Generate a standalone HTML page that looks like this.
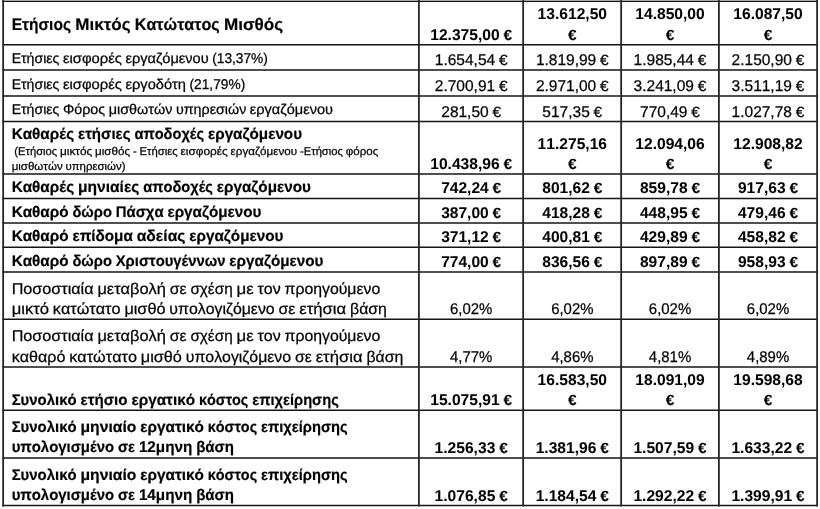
<!DOCTYPE html><html><head><meta charset="utf-8"><title>table</title><style>
html,body{margin:0;padding:0;background:#fff}body{width:820px;height:509px;position:relative;overflow:hidden;font-family:"Liberation Sans",sans-serif;color:#000;text-rendering:geometricPrecision;font-kerning:none}
.t{position:absolute;white-space:pre;line-height:1;transform-origin:0 0;-webkit-text-stroke:0.25px #000}.b{font-weight:bold;-webkit-text-stroke:0.2px #000}.v{-webkit-text-stroke:0.05px #000}svg{position:absolute;left:0;top:0}#w{position:absolute;left:0;top:0;width:820px;height:509px;will-change:transform}
</style></head><body>
<svg width="820" height="509" viewBox="0 0 820 509">
<rect x="3.15" y="0" width="813.95" height="1" fill="#d8d8d8"/>
<line x1="2.2" y1="1.45" x2="818.0" y2="1.45" stroke="#141414" stroke-width="1.20"/>
<line x1="2.2" y1="44.70" x2="818.0" y2="44.70" stroke="#141414" stroke-width="1.50"/>
<line x1="2.2" y1="70.10" x2="818.0" y2="70.10" stroke="#141414" stroke-width="1.50"/>
<line x1="2.2" y1="95.90" x2="818.0" y2="95.90" stroke="#141414" stroke-width="1.50"/>
<line x1="2.2" y1="121.40" x2="818.0" y2="121.40" stroke="#141414" stroke-width="1.50"/>
<line x1="2.2" y1="174.00" x2="818.0" y2="174.00" stroke="#141414" stroke-width="1.50"/>
<line x1="2.2" y1="198.40" x2="818.0" y2="198.40" stroke="#141414" stroke-width="1.50"/>
<line x1="2.2" y1="222.90" x2="818.0" y2="222.90" stroke="#141414" stroke-width="1.50"/>
<line x1="2.2" y1="247.30" x2="818.0" y2="247.30" stroke="#141414" stroke-width="1.50"/>
<line x1="2.2" y1="271.90" x2="818.0" y2="271.90" stroke="#141414" stroke-width="1.50"/>
<line x1="2.2" y1="319.30" x2="818.0" y2="319.30" stroke="#141414" stroke-width="1.50"/>
<line x1="2.2" y1="367.00" x2="818.0" y2="367.00" stroke="#141414" stroke-width="1.50"/>
<line x1="2.2" y1="410.30" x2="818.0" y2="410.30" stroke="#141414" stroke-width="1.50"/>
<line x1="2.2" y1="458.00" x2="818.0" y2="458.00" stroke="#141414" stroke-width="1.50"/>
<line x1="2.2" y1="505.60" x2="818.0" y2="505.60" stroke="#141414" stroke-width="1.50"/>
<line x1="3.15" y1="0.0" x2="3.15" y2="506.4" stroke="#262626" stroke-width="1.80"/>
<line x1="418.90" y1="0.0" x2="418.90" y2="506.4" stroke="#262626" stroke-width="1.80"/>
<line x1="523.15" y1="0.0" x2="523.15" y2="506.4" stroke="#262626" stroke-width="1.80"/>
<line x1="621.15" y1="0.0" x2="621.15" y2="506.4" stroke="#262626" stroke-width="1.80"/>
<line x1="718.90" y1="0.0" x2="718.90" y2="506.4" stroke="#262626" stroke-width="1.80"/>
<line x1="817.10" y1="0.0" x2="817.10" y2="506.4" stroke="#262626" stroke-width="1.80"/>
</svg>
<div id="w">
<div class="t b" style="left:11px;top:17px;font-size:16.81px;transform:translate(0.65px,0) scaleX(0.9264)">Ετήσιος</div>
<div class="t b" style="left:75px;top:17px;font-size:16.81px;transform:translate(0.29px,0) scaleX(1.0138)">Μικτός</div>
<div class="t b" style="left:134px;top:17px;font-size:16.81px;transform:translate(0.81px,0) scaleX(0.9588)">Κατώτατος</div>
<div class="t b" style="left:223px;top:17px;font-size:16.81px;transform:translate(0.89px,0) scaleX(1.0184)">Μισθός</div>
<div class="t" style="left:11px;top:51px;font-size:14.12px;transform:translate(0.65px,0) scaleX(0.9991)">Ετήσιες</div>
<div class="t" style="left:62px;top:51px;font-size:14.12px;transform:translate(0.91px,0) scaleX(1.0493)">εισφορές</div>
<div class="t" style="left:125px;top:51px;font-size:14.12px;transform:translate(0.47px,0) scaleX(1.0313)">εργαζόμενου</div>
<div class="t" style="left:212px;top:52px;font-size:14.16px;transform:translate(0.19px,0) scaleX(0.9694)">(13,37%)</div>
<div class="t" style="left:11px;top:77px;font-size:14.12px;transform:translate(0.65px,0) scaleX(0.9991)">Ετήσιες</div>
<div class="t" style="left:62px;top:77px;font-size:14.12px;transform:translate(0.91px,0) scaleX(1.0493)">εισφορές</div>
<div class="t" style="left:125px;top:77px;font-size:14.12px;transform:translate(0.47px,0) scaleX(1.0375)">εργοδότη</div>
<div class="t" style="left:189px;top:78px;font-size:14.16px;transform:translate(0.54px,0) scaleX(0.9694)">(21,79%)</div>
<div class="t" style="left:11px;top:102px;font-size:14.12px;transform:translate(0.65px,0) scaleX(0.9991)">Ετήσιες</div>
<div class="t" style="left:62px;top:102px;font-size:14.12px;transform:translate(0.91px,0) scaleX(1.0121)">Φόρος</div>
<div class="t" style="left:108px;top:102px;font-size:14.12px;transform:translate(0.72px,0) scaleX(1.0190)">μισθωτών</div>
<div class="t" style="left:175px;top:102px;font-size:14.12px;transform:translate(0.94px,0) scaleX(1.0116)">υπηρεσιών</div>
<div class="t" style="left:249px;top:102px;font-size:14.12px;transform:translate(0.82px,0) scaleX(1.0313)">εργαζόμενου</div>
<div class="t b" style="left:11px;top:127px;font-size:15.41px;transform:translate(0.65px,0) scaleX(0.9930)">Καθαρές</div>
<div class="t b" style="left:77px;top:127px;font-size:15.41px;transform:translate(0.97px,0) scaleX(0.9786)">ετήσιες</div>
<div class="t b" style="left:134px;top:127px;font-size:15.41px;transform:translate(0.42px,0) scaleX(0.9511)">αποδοχές</div>
<div class="t b" style="left:207px;top:127px;font-size:15.41px;transform:translate(0.97px,0) scaleX(0.9896)">εργαζόμενου</div>
<div class="t" style="left:14px;top:147px;font-size:11.3px;transform:translate(0.35px,0) scaleX(0.9909)">(Ετήσιος</div>
<div class="t" style="left:60px;top:147px;font-size:11.3px;transform:translate(0.02px,0) scaleX(1.0453)">μικτός</div>
<div class="t" style="left:95px;top:147px;font-size:11.3px;transform:translate(0.09px,0) scaleX(1.0294)">μισθός</div>
<div class="t" style="left:132px;top:147px;font-size:11.3px;transform:translate(0.90px,0) scaleX(1.0075)">-</div>
<div class="t" style="left:139px;top:147px;font-size:11.3px;transform:translate(0.49px,0) scaleX(0.9992)">Ετήσιες</div>
<div class="t" style="left:180px;top:147px;font-size:11.3px;transform:translate(0.52px,0) scaleX(1.0494)">εισφορές</div>
<div class="t" style="left:230px;top:147px;font-size:11.3px;transform:translate(0.59px,0) scaleX(1.0315)">εργαζόμενου</div>
<div class="t" style="left:299px;top:147px;font-size:11.3px;transform:translate(1.00px,0) scaleX(0.9917)">-Ετήσιος</div>
<div class="t" style="left:345px;top:147px;font-size:11.3px;transform:translate(0.71px,0) scaleX(1.0239)">φόρος</div>
<div class="t" style="left:11px;top:162px;font-size:11.3px;transform:translate(0.65px,0) scaleX(1.0192)">μισθωτών</div>
<div class="t" style="left:65px;top:162px;font-size:11.3px;transform:translate(0.45px,0) scaleX(1.0109)">υπηρεσιών)</div>
<div class="t b" style="left:11px;top:180px;font-size:15.41px;transform:translate(0.65px,0) scaleX(0.9930)">Καθαρές</div>
<div class="t b" style="left:77px;top:180px;font-size:15.41px;transform:translate(0.97px,0) scaleX(1.0104)">μηνιαίες</div>
<div class="t b" style="left:143px;top:180px;font-size:15.41px;transform:translate(0.23px,0) scaleX(0.9511)">αποδοχές</div>
<div class="t b" style="left:216px;top:180px;font-size:15.41px;transform:translate(0.78px,0) scaleX(0.9896)">εργαζόμενου</div>
<div class="t b" style="left:11px;top:205px;font-size:15.41px;transform:translate(0.65px,0) scaleX(0.9922)">Καθαρό</div>
<div class="t b" style="left:72px;top:205px;font-size:15.41px;transform:translate(0.40px,0) scaleX(0.9557)">δώρο</div>
<div class="t b" style="left:115px;top:205px;font-size:15.41px;transform:translate(0.74px,0) scaleX(0.9661)">Πάσχα</div>
<div class="t b" style="left:167px;top:205px;font-size:15.41px;transform:translate(0.40px,0) scaleX(0.9896)">εργαζόμενου</div>
<div class="t b" style="left:11px;top:229px;font-size:15.41px;transform:translate(0.65px,0) scaleX(0.9922)">Καθαρό</div>
<div class="t b" style="left:72px;top:229px;font-size:15.41px;transform:translate(0.40px,0) scaleX(0.9895)">επίδομα</div>
<div class="t b" style="left:136px;top:229px;font-size:15.41px;transform:translate(0.67px,0) scaleX(1.0185)">αδείας</div>
<div class="t b" style="left:189px;top:229px;font-size:15.41px;transform:translate(0.30px,0) scaleX(0.9896)">εργαζόμενου</div>
<div class="t b" style="left:11px;top:254px;font-size:15.41px;transform:translate(0.65px,0) scaleX(0.9922)">Καθαρό</div>
<div class="t b" style="left:72px;top:254px;font-size:15.41px;transform:translate(0.40px,0) scaleX(0.9557)">δώρο</div>
<div class="t b" style="left:115px;top:254px;font-size:15.41px;transform:translate(0.74px,0) scaleX(0.9617)">Χριστουγέννων</div>
<div class="t b" style="left:229px;top:254px;font-size:15.41px;transform:translate(0.37px,0) scaleX(0.9896)">εργαζόμενου</div>
<div class="t" style="left:11px;top:282px;font-size:15.53px;transform:translate(0.65px,0) scaleX(1.0419)">Ποσοστιαία</div>
<div class="t" style="left:97px;top:282px;font-size:15.53px;transform:translate(0.45px,0) scaleX(1.0536)">μεταβολή</div>
<div class="t" style="left:169px;top:282px;font-size:15.53px;transform:translate(0.74px,0) scaleX(1.0184)">σε</div>
<div class="t" style="left:190px;top:282px;font-size:15.53px;transform:translate(0.40px,0) scaleX(0.9859)">σχέση</div>
<div class="t" style="left:236px;top:282px;font-size:15.53px;transform:translate(0.53px,0) scaleX(1.0786)">με</div>
<div class="t" style="left:257px;top:282px;font-size:15.53px;transform:translate(0.50px,0) scaleX(1.0301)">τον</div>
<div class="t" style="left:284px;top:282px;font-size:15.53px;transform:translate(0.56px,0) scaleX(1.0187)">προηγούμενο</div>
<div class="t" style="left:11px;top:302px;font-size:15.53px;transform:translate(0.65px,0) scaleX(1.0692)">μικτό</div>
<div class="t" style="left:52px;top:302px;font-size:15.53px;transform:translate(0.85px,0) scaleX(1.0431)">κατώτατο</div>
<div class="t" style="left:124px;top:302px;font-size:15.53px;transform:translate(0.39px,0) scaleX(1.0476)">μισθό</div>
<div class="t" style="left:169px;top:302px;font-size:15.53px;transform:translate(0.37px,0) scaleX(1.0211)">υπολογιζόμενο</div>
<div class="t" style="left:278px;top:302px;font-size:15.53px;transform:translate(0.62px,0) scaleX(1.0183)">σε</div>
<div class="t" style="left:299px;top:302px;font-size:15.53px;transform:translate(0.28px,0) scaleX(1.0728)">ετήσια</div>
<div class="t" style="left:350px;top:302px;font-size:15.53px;transform:translate(0.02px,0) scaleX(1.0215)">βάση</div>
<div class="t" style="left:11px;top:329px;font-size:15.53px;transform:translate(0.65px,0) scaleX(1.0419)">Ποσοστιαία</div>
<div class="t" style="left:97px;top:329px;font-size:15.53px;transform:translate(0.45px,0) scaleX(1.0536)">μεταβολή</div>
<div class="t" style="left:169px;top:329px;font-size:15.53px;transform:translate(0.74px,0) scaleX(1.0184)">σε</div>
<div class="t" style="left:190px;top:329px;font-size:15.53px;transform:translate(0.40px,0) scaleX(0.9859)">σχέση</div>
<div class="t" style="left:236px;top:329px;font-size:15.53px;transform:translate(0.53px,0) scaleX(1.0786)">με</div>
<div class="t" style="left:257px;top:329px;font-size:15.53px;transform:translate(0.50px,0) scaleX(1.0301)">τον</div>
<div class="t" style="left:284px;top:329px;font-size:15.53px;transform:translate(0.56px,0) scaleX(1.0187)">προηγούμενο</div>
<div class="t" style="left:11px;top:350px;font-size:15.53px;transform:translate(0.65px,0) scaleX(1.0374)">καθαρό</div>
<div class="t" style="left:69px;top:350px;font-size:15.53px;transform:translate(0.27px,0) scaleX(1.0431)">κατώτατο</div>
<div class="t" style="left:140px;top:350px;font-size:15.53px;transform:translate(0.81px,0) scaleX(1.0476)">μισθό</div>
<div class="t" style="left:185px;top:350px;font-size:15.53px;transform:translate(0.78px,0) scaleX(1.0211)">υπολογιζόμενο</div>
<div class="t" style="left:295px;top:350px;font-size:15.53px;transform:translate(0.03px,0) scaleX(1.0184)">σε</div>
<div class="t" style="left:315px;top:350px;font-size:15.53px;transform:translate(0.70px,0) scaleX(1.0728)">ετήσια</div>
<div class="t" style="left:366px;top:350px;font-size:15.53px;transform:translate(0.44px,0) scaleX(1.0215)">βάση</div>
<div class="t b" style="left:11px;top:393px;font-size:15.41px;transform:translate(0.65px,0) scaleX(0.9694)">Συνολικό</div>
<div class="t b" style="left:80px;top:393px;font-size:15.41px;transform:translate(0.50px,0) scaleX(0.9833)">ετήσιο</div>
<div class="t b" style="left:131px;top:393px;font-size:15.41px;transform:translate(0.39px,0) scaleX(0.9949)">εργατικό</div>
<div class="t b" style="left:198px;top:393px;font-size:15.41px;transform:translate(0.97px,0) scaleX(0.9341)">κόστος</div>
<div class="t b" style="left:252px;top:393px;font-size:15.41px;transform:translate(0.19px,0) scaleX(0.9542)">επιχείρησης</div>
<div class="t b" style="left:11px;top:420px;font-size:15.41px;transform:translate(0.65px,0) scaleX(0.9694)">Συνολικό</div>
<div class="t b" style="left:80px;top:420px;font-size:15.41px;transform:translate(0.50px,0) scaleX(1.0180)">μηνιαίο</div>
<div class="t b" style="left:140px;top:420px;font-size:15.41px;transform:translate(0.20px,0) scaleX(0.9949)">εργατικό</div>
<div class="t b" style="left:207px;top:420px;font-size:15.41px;transform:translate(0.78px,0) scaleX(0.9341)">κόστος</div>
<div class="t b" style="left:260px;top:420px;font-size:15.41px;transform:translate(1.00px,0) scaleX(0.9542)">επιχείρησης</div>
<div class="t b" style="left:11px;top:440px;font-size:15.41px;transform:translate(0.65px,0) scaleX(0.9674)">υπολογισμένο</div>
<div class="t b" style="left:117px;top:440px;font-size:15.41px;transform:translate(0.97px,0) scaleX(0.9555)">σε</div>
<div class="t b" style="left:138px;top:440px;font-size:15.58px;transform:translate(0.88px,0) scaleX(0.9789)">12μηνη</div>
<div class="t b" style="left:196px;top:440px;font-size:15.41px;transform:translate(0.14px,0) scaleX(0.9755)">βάση</div>
<div class="t b" style="left:11px;top:468px;font-size:15.41px;transform:translate(0.65px,0) scaleX(0.9694)">Συνολικό</div>
<div class="t b" style="left:80px;top:468px;font-size:15.41px;transform:translate(0.50px,0) scaleX(1.0180)">μηνιαίο</div>
<div class="t b" style="left:140px;top:468px;font-size:15.41px;transform:translate(0.20px,0) scaleX(0.9949)">εργατικό</div>
<div class="t b" style="left:207px;top:468px;font-size:15.41px;transform:translate(0.78px,0) scaleX(0.9341)">κόστος</div>
<div class="t b" style="left:260px;top:468px;font-size:15.41px;transform:translate(1.00px,0) scaleX(0.9542)">επιχείρησης</div>
<div class="t b" style="left:11px;top:488px;font-size:15.41px;transform:translate(0.65px,0) scaleX(0.9674)">υπολογισμένο</div>
<div class="t b" style="left:117px;top:488px;font-size:15.41px;transform:translate(0.97px,0) scaleX(0.9555)">σε</div>
<div class="t b" style="left:138px;top:488px;font-size:15.58px;transform:translate(0.88px,0) scaleX(0.9789)">14μηνη</div>
<div class="t b" style="left:196px;top:488px;font-size:15.41px;transform:translate(0.14px,0) scaleX(0.9755)">βάση</div>
<div class="t b v" style="left:430px;top:28px;font-size:15.58px;transform:translate(0.28px,0) scaleX(1.0007)">12.375,00</div>
<div class="t b v" style="left:503px;top:29px;font-size:14.82px;transform:translate(0.49px,0) scaleX(1.0471)">€</div>
<div class="t b v" style="left:537px;top:7px;font-size:15.58px;transform:translate(0.62px,0) scaleX(1.0007)">13.612,50</div>
<div class="t b v" style="left:567px;top:29px;font-size:14.82px;transform:translate(0.98px,0) scaleX(1.0471)">€</div>
<div class="t b v" style="left:635px;top:7px;font-size:15.58px;transform:translate(0.32px,0) scaleX(1.0007)">14.850,00</div>
<div class="t b v" style="left:665px;top:29px;font-size:14.82px;transform:translate(0.68px,0) scaleX(1.0471)">€</div>
<div class="t b v" style="left:733px;top:7px;font-size:15.58px;transform:translate(0.32px,0) scaleX(1.0007)">16.087,50</div>
<div class="t b v" style="left:763px;top:29px;font-size:14.82px;transform:translate(0.68px,0) scaleX(1.0471)">€</div>
<div class="t" style="left:434px;top:53px;font-size:15.58px;transform:translate(0.79px,0) scaleX(0.9949)">1.654,54</div>
<div class="t" style="left:498px;top:54px;font-size:14.82px;transform:translate(0.98px,0) scaleX(1.0471)">€</div>
<div class="t" style="left:535px;top:53px;font-size:15.58px;transform:translate(0.89px,0) scaleX(0.9949)">1.819,99</div>
<div class="t" style="left:600px;top:54px;font-size:14.82px;transform:translate(0.08px,0) scaleX(1.0471)">€</div>
<div class="t" style="left:633px;top:53px;font-size:15.58px;transform:translate(0.59px,0) scaleX(0.9949)">1.985,44</div>
<div class="t" style="left:697px;top:54px;font-size:14.82px;transform:translate(0.78px,0) scaleX(1.0471)">€</div>
<div class="t" style="left:731px;top:53px;font-size:15.58px;transform:translate(0.59px,0) scaleX(0.9949)">2.150,90</div>
<div class="t" style="left:795px;top:54px;font-size:14.82px;transform:translate(0.78px,0) scaleX(1.0471)">€</div>
<div class="t" style="left:434px;top:79px;font-size:15.58px;transform:translate(0.79px,0) scaleX(0.9949)">2.700,91</div>
<div class="t" style="left:498px;top:80px;font-size:14.82px;transform:translate(0.98px,0) scaleX(1.0471)">€</div>
<div class="t" style="left:535px;top:79px;font-size:15.58px;transform:translate(0.89px,0) scaleX(0.9949)">2.971,00</div>
<div class="t" style="left:600px;top:80px;font-size:14.82px;transform:translate(0.08px,0) scaleX(1.0471)">€</div>
<div class="t" style="left:633px;top:79px;font-size:15.58px;transform:translate(0.59px,0) scaleX(0.9949)">3.241,09</div>
<div class="t" style="left:697px;top:80px;font-size:14.82px;transform:translate(0.78px,0) scaleX(1.0471)">€</div>
<div class="t" style="left:731px;top:79px;font-size:15.58px;transform:translate(0.59px,0) scaleX(0.9949)">3.511,19</div>
<div class="t" style="left:795px;top:80px;font-size:14.82px;transform:translate(0.78px,0) scaleX(1.0471)">€</div>
<div class="t" style="left:441px;top:105px;font-size:15.58px;transform:translate(0.26px,0) scaleX(0.9948)">281,50</div>
<div class="t" style="left:492px;top:106px;font-size:14.82px;transform:translate(0.51px,0) scaleX(1.0471)">€</div>
<div class="t" style="left:542px;top:105px;font-size:15.58px;transform:translate(0.36px,0) scaleX(0.9948)">517,35</div>
<div class="t" style="left:593px;top:106px;font-size:14.82px;transform:translate(0.61px,0) scaleX(1.0471)">€</div>
<div class="t" style="left:640px;top:105px;font-size:15.58px;transform:translate(0.06px,0) scaleX(0.9948)">770,49</div>
<div class="t" style="left:691px;top:106px;font-size:14.82px;transform:translate(0.31px,0) scaleX(1.0471)">€</div>
<div class="t" style="left:731px;top:105px;font-size:15.58px;transform:translate(0.59px,0) scaleX(0.9949)">1.027,78</div>
<div class="t" style="left:795px;top:106px;font-size:14.82px;transform:translate(0.78px,0) scaleX(1.0471)">€</div>
<div class="t b v" style="left:430px;top:157px;font-size:15.58px;transform:translate(0.28px,0) scaleX(1.0007)">10.438,96</div>
<div class="t b v" style="left:503px;top:158px;font-size:14.82px;transform:translate(0.49px,0) scaleX(1.0471)">€</div>
<div class="t b v" style="left:537px;top:137px;font-size:15.58px;transform:translate(0.62px,0) scaleX(1.0007)">11.275,16</div>
<div class="t b v" style="left:567px;top:158px;font-size:14.82px;transform:translate(0.98px,0) scaleX(1.0471)">€</div>
<div class="t b v" style="left:635px;top:137px;font-size:15.58px;transform:translate(0.32px,0) scaleX(1.0007)">12.094,06</div>
<div class="t b v" style="left:665px;top:158px;font-size:14.82px;transform:translate(0.68px,0) scaleX(1.0471)">€</div>
<div class="t b v" style="left:733px;top:137px;font-size:15.58px;transform:translate(0.32px,0) scaleX(1.0007)">12.908,82</div>
<div class="t b v" style="left:763px;top:158px;font-size:14.82px;transform:translate(0.68px,0) scaleX(1.0471)">€</div>
<div class="t b v" style="left:441px;top:181px;font-size:15.58px;transform:translate(0.18px,0) scaleX(0.9978)">742,24</div>
<div class="t b v" style="left:492px;top:182px;font-size:14.82px;transform:translate(0.58px,0) scaleX(1.0471)">€</div>
<div class="t b v" style="left:542px;top:181px;font-size:15.58px;transform:translate(0.28px,0) scaleX(0.9978)">801,62</div>
<div class="t b v" style="left:593px;top:182px;font-size:14.82px;transform:translate(0.68px,0) scaleX(1.0471)">€</div>
<div class="t b v" style="left:639px;top:181px;font-size:15.58px;transform:translate(0.98px,0) scaleX(0.9978)">859,78</div>
<div class="t b v" style="left:691px;top:182px;font-size:14.82px;transform:translate(0.38px,0) scaleX(1.0471)">€</div>
<div class="t b v" style="left:737px;top:181px;font-size:15.58px;transform:translate(0.98px,0) scaleX(0.9978)">917,63</div>
<div class="t b v" style="left:789px;top:182px;font-size:14.82px;transform:translate(0.38px,0) scaleX(1.0471)">€</div>
<div class="t b v" style="left:441px;top:206px;font-size:15.58px;transform:translate(0.18px,0) scaleX(0.9978)">387,00</div>
<div class="t b v" style="left:492px;top:207px;font-size:14.82px;transform:translate(0.58px,0) scaleX(1.0471)">€</div>
<div class="t b v" style="left:542px;top:206px;font-size:15.58px;transform:translate(0.28px,0) scaleX(0.9978)">418,28</div>
<div class="t b v" style="left:593px;top:207px;font-size:14.82px;transform:translate(0.68px,0) scaleX(1.0471)">€</div>
<div class="t b v" style="left:639px;top:206px;font-size:15.58px;transform:translate(0.98px,0) scaleX(0.9978)">448,95</div>
<div class="t b v" style="left:691px;top:207px;font-size:14.82px;transform:translate(0.38px,0) scaleX(1.0471)">€</div>
<div class="t b v" style="left:737px;top:206px;font-size:15.58px;transform:translate(0.98px,0) scaleX(0.9978)">479,46</div>
<div class="t b v" style="left:789px;top:207px;font-size:14.82px;transform:translate(0.38px,0) scaleX(1.0471)">€</div>
<div class="t b v" style="left:441px;top:230px;font-size:15.58px;transform:translate(0.18px,0) scaleX(0.9978)">371,12</div>
<div class="t b v" style="left:492px;top:231px;font-size:14.82px;transform:translate(0.58px,0) scaleX(1.0471)">€</div>
<div class="t b v" style="left:542px;top:230px;font-size:15.58px;transform:translate(0.28px,0) scaleX(0.9978)">400,81</div>
<div class="t b v" style="left:593px;top:231px;font-size:14.82px;transform:translate(0.68px,0) scaleX(1.0471)">€</div>
<div class="t b v" style="left:639px;top:230px;font-size:15.58px;transform:translate(0.98px,0) scaleX(0.9978)">429,89</div>
<div class="t b v" style="left:691px;top:231px;font-size:14.82px;transform:translate(0.38px,0) scaleX(1.0471)">€</div>
<div class="t b v" style="left:737px;top:230px;font-size:15.58px;transform:translate(0.98px,0) scaleX(0.9978)">458,82</div>
<div class="t b v" style="left:789px;top:231px;font-size:14.82px;transform:translate(0.38px,0) scaleX(1.0471)">€</div>
<div class="t b v" style="left:441px;top:255px;font-size:15.58px;transform:translate(0.18px,0) scaleX(0.9978)">774,00</div>
<div class="t b v" style="left:492px;top:256px;font-size:14.82px;transform:translate(0.58px,0) scaleX(1.0471)">€</div>
<div class="t b v" style="left:542px;top:255px;font-size:15.58px;transform:translate(0.28px,0) scaleX(0.9978)">836,56</div>
<div class="t b v" style="left:593px;top:256px;font-size:14.82px;transform:translate(0.68px,0) scaleX(1.0471)">€</div>
<div class="t b v" style="left:639px;top:255px;font-size:15.58px;transform:translate(0.98px,0) scaleX(0.9978)">897,89</div>
<div class="t b v" style="left:691px;top:256px;font-size:14.82px;transform:translate(0.38px,0) scaleX(1.0471)">€</div>
<div class="t b v" style="left:737px;top:255px;font-size:15.58px;transform:translate(0.98px,0) scaleX(0.9978)">958,93</div>
<div class="t b v" style="left:789px;top:256px;font-size:14.82px;transform:translate(0.38px,0) scaleX(1.0471)">€</div>
<div class="t" style="left:450px;top:302px;font-size:15.58px;transform:translate(0.04px,0) scaleX(0.9580)">6,02%</div>
<div class="t" style="left:551px;top:302px;font-size:15.58px;transform:translate(0.14px,0) scaleX(0.9580)">6,02%</div>
<div class="t" style="left:648px;top:302px;font-size:15.58px;transform:translate(0.84px,0) scaleX(0.9580)">6,02%</div>
<div class="t" style="left:746px;top:302px;font-size:15.58px;transform:translate(0.84px,0) scaleX(0.9580)">6,02%</div>
<div class="t" style="left:450px;top:350px;font-size:15.58px;transform:translate(0.04px,0) scaleX(0.9580)">4,77%</div>
<div class="t" style="left:551px;top:350px;font-size:15.58px;transform:translate(0.14px,0) scaleX(0.9580)">4,86%</div>
<div class="t" style="left:648px;top:350px;font-size:15.58px;transform:translate(0.84px,0) scaleX(0.9580)">4,81%</div>
<div class="t" style="left:746px;top:350px;font-size:15.58px;transform:translate(0.84px,0) scaleX(0.9580)">4,89%</div>
<div class="t b v" style="left:430px;top:393px;font-size:15.58px;transform:translate(0.28px,0) scaleX(1.0007)">15.075,91</div>
<div class="t b v" style="left:503px;top:394px;font-size:14.82px;transform:translate(0.49px,0) scaleX(1.0471)">€</div>
<div class="t b v" style="left:537px;top:373px;font-size:15.58px;transform:translate(0.62px,0) scaleX(1.0007)">16.583,50</div>
<div class="t b v" style="left:567px;top:394px;font-size:14.82px;transform:translate(0.98px,0) scaleX(1.0471)">€</div>
<div class="t b v" style="left:635px;top:373px;font-size:15.58px;transform:translate(0.32px,0) scaleX(1.0007)">18.091,09</div>
<div class="t b v" style="left:665px;top:394px;font-size:14.82px;transform:translate(0.68px,0) scaleX(1.0471)">€</div>
<div class="t b v" style="left:733px;top:373px;font-size:15.58px;transform:translate(0.32px,0) scaleX(1.0007)">19.598,68</div>
<div class="t b v" style="left:763px;top:394px;font-size:14.82px;transform:translate(0.68px,0) scaleX(1.0471)">€</div>
<div class="t b v" style="left:434px;top:441px;font-size:15.58px;transform:translate(0.59px,0) scaleX(1.0013)">1.256,33</div>
<div class="t b v" style="left:499px;top:442px;font-size:14.82px;transform:translate(0.17px,0) scaleX(1.0471)">€</div>
<div class="t b v" style="left:535px;top:441px;font-size:15.58px;transform:translate(0.69px,0) scaleX(1.0013)">1.381,96</div>
<div class="t b v" style="left:600px;top:442px;font-size:14.82px;transform:translate(0.27px,0) scaleX(1.0471)">€</div>
<div class="t b v" style="left:633px;top:441px;font-size:15.58px;transform:translate(0.39px,0) scaleX(1.0013)">1.507,59</div>
<div class="t b v" style="left:697px;top:442px;font-size:14.82px;transform:translate(0.97px,0) scaleX(1.0471)">€</div>
<div class="t b v" style="left:731px;top:441px;font-size:15.58px;transform:translate(0.39px,0) scaleX(1.0013)">1.633,22</div>
<div class="t b v" style="left:795px;top:442px;font-size:14.82px;transform:translate(0.97px,0) scaleX(1.0471)">€</div>
<div class="t b v" style="left:434px;top:489px;font-size:15.58px;transform:translate(0.59px,0) scaleX(1.0013)">1.076,85</div>
<div class="t b v" style="left:499px;top:490px;font-size:14.82px;transform:translate(0.17px,0) scaleX(1.0471)">€</div>
<div class="t b v" style="left:535px;top:489px;font-size:15.58px;transform:translate(0.69px,0) scaleX(1.0013)">1.184,54</div>
<div class="t b v" style="left:600px;top:490px;font-size:14.82px;transform:translate(0.27px,0) scaleX(1.0471)">€</div>
<div class="t b v" style="left:633px;top:489px;font-size:15.58px;transform:translate(0.39px,0) scaleX(1.0013)">1.292,22</div>
<div class="t b v" style="left:697px;top:490px;font-size:14.82px;transform:translate(0.97px,0) scaleX(1.0471)">€</div>
<div class="t b v" style="left:731px;top:489px;font-size:15.58px;transform:translate(0.39px,0) scaleX(1.0013)">1.399,91</div>
<div class="t b v" style="left:795px;top:490px;font-size:14.82px;transform:translate(0.97px,0) scaleX(1.0471)">€</div>
</div>
</body></html>
